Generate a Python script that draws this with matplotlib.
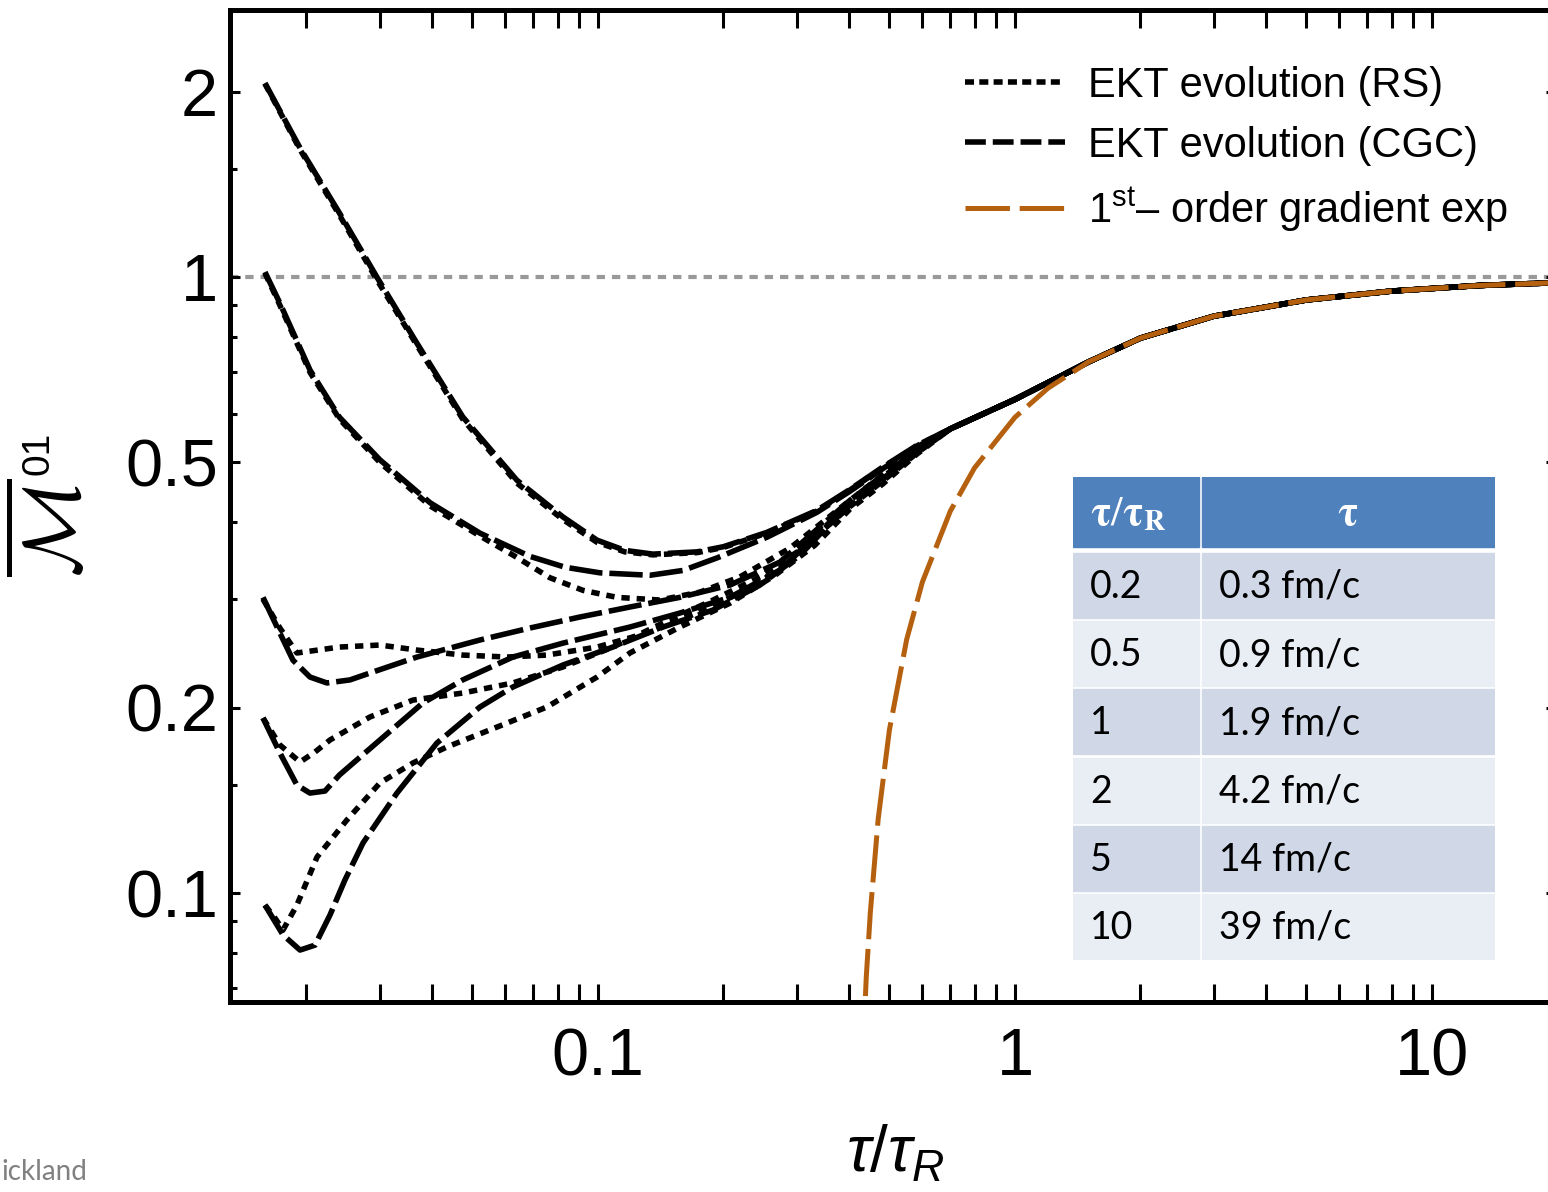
import matplotlib
matplotlib.use('Agg')
import matplotlib.pyplot as plt
from matplotlib.lines import Line2D
from matplotlib.patches import Rectangle
from matplotlib.ticker import NullFormatter

plt.rcParams['font.family'] = ['Liberation Sans', 'DejaVu Sans']
plt.rcParams['mathtext.fontset'] = 'custom'
plt.rcParams['mathtext.rm'] = 'Liberation Sans'
plt.rcParams['mathtext.it'] = 'Liberation Sans:italic'
plt.rcParams['lines.scale_dashes'] = False

# early-time part of each curve, tau/tau_R vs M^01
TAU_A = [0.0159, 0.0193, 0.0240, 0.0295, 0.0368, 0.0474, 0.0639, 0.0824, 0.0995,
         0.116, 0.1355, 0.173, 0.200, 0.254, 0.335, 0.402, 0.483, 0.582]
M_A_CGC = [2.065, 1.62, 1.27, 1.00, 0.781, 0.593, 0.468, 0.408, 0.374,
           0.360, 0.355, 0.358, 0.365, 0.385, 0.418, 0.452, 0.492, 0.533]
M_A_RS = [2.06, 1.61, 1.26, 0.99, 0.775, 0.588, 0.463, 0.404, 0.371,
          0.358, 0.354, 0.357, 0.364, 0.384, 0.417, 0.451, 0.491, 0.532]

TAU_B_CGC = [0.0159, 0.01727, 0.0204, 0.0240, 0.0300, 0.0396, 0.0521, 0.0687, 0.0834,
             0.1011, 0.1333, 0.160, 0.193, 0.254, 0.335, 0.402, 0.483, 0.582]
M_B_CGC = [1.019, 0.907, 0.706, 0.592, 0.505, 0.430, 0.384, 0.352, 0.338,
           0.331, 0.328, 0.334, 0.350, 0.378, 0.415, 0.449, 0.489, 0.530]
TAU_B_RS = [0.0159, 0.01727, 0.0204, 0.0240, 0.0300, 0.0396, 0.0521, 0.0633, 0.0767,
            0.0921, 0.1111, 0.1408, 0.1757, 0.219, 0.2887, 0.402, 0.483, 0.582]
M_B_RS = [1.015, 0.900, 0.700, 0.588, 0.500, 0.425, 0.380, 0.352, 0.325,
          0.310, 0.302, 0.299, 0.308, 0.326, 0.363, 0.434, 0.478, 0.523]

TAU_C_CGC = [0.01573, 0.01727, 0.01856, 0.02039, 0.02239, 0.02542, 0.02839, 0.0368, 0.0521,
             0.0687, 0.0905, 0.1193, 0.1572, 0.2073, 0.2732, 0.402, 0.483, 0.582]
M_C_CGC = [0.302, 0.2643, 0.2388, 0.2242, 0.2193, 0.2218, 0.2276, 0.2416, 0.2575,
           0.2693, 0.2806, 0.2913, 0.302, 0.3162, 0.3446, 0.434, 0.477, 0.523]
TAU_C_RS = [0.01573, 0.01727, 0.01897, 0.0213, 0.0240, 0.0300, 0.0368, 0.0474, 0.0605,
            0.0754, 0.0995, 0.1311, 0.1727, 0.219, 0.2808, 0.402, 0.483, 0.582]
M_C_RS = [0.300, 0.2693, 0.2453, 0.2480, 0.2508, 0.2527, 0.2480, 0.2434, 0.2416,
          0.2434, 0.2508, 0.2643, 0.2848, 0.3069, 0.3407, 0.427, 0.471, 0.520]

TAU_D_CGC = [0.01573, 0.01727, 0.01897, 0.02039, 0.02215, 0.0240, 0.0300, 0.0380, 0.0474,
             0.0625, 0.0824, 0.1193, 0.1572, 0.2073, 0.2732, 0.402, 0.483, 0.582]
M_D_CGC = [0.1924, 0.1688, 0.1497, 0.1453, 0.1464, 0.1555, 0.1772, 0.2034, 0.2218,
           0.2416, 0.2545, 0.2703, 0.2848, 0.302, 0.3345, 0.430, 0.474, 0.522]
TAU_D_RS = [0.01573, 0.01727, 0.0193, 0.02096, 0.02277, 0.02839, 0.0360, 0.0474, 0.0625,
            0.0824, 0.1086, 0.1432, 0.1887, 0.2446, 0.3051, 0.402, 0.483, 0.582]
M_D_RS = [0.1924, 0.1739, 0.1632, 0.1694, 0.1772, 0.1931, 0.2057, 0.2112, 0.2193,
          0.2328, 0.2508, 0.2744, 0.2989, 0.326, 0.3604, 0.424, 0.467, 0.518]

TAU_E_CGC = [0.0159, 0.01757, 0.0193, 0.02096, 0.02277, 0.02473, 0.02733, 0.03296, 0.0411,
             0.0521, 0.0625, 0.0824, 0.1086, 0.1432, 0.1887, 0.2446, 0.3051, 0.402, 0.483, 0.582]
M_E_CGC = [0.0956, 0.0855, 0.0808, 0.0823, 0.0921, 0.1050, 0.1206, 0.1453, 0.1752,
           0.2004, 0.2160, 0.2345, 0.2508, 0.2703, 0.288, 0.3162, 0.3537, 0.430, 0.474, 0.522]
TAU_E_RS = [0.0159, 0.0168, 0.01757, 0.01897, 0.0212, 0.0250, 0.0300, 0.0360, 0.0434,
            0.0573, 0.0754, 0.0995, 0.1193, 0.1572, 0.2073, 0.2658, 0.3315, 0.402, 0.483, 0.582]
M_E_RS = [0.0956, 0.0911, 0.0871, 0.0956, 0.1144, 0.1314, 0.1509, 0.1626, 0.1726,
          0.1860, 0.2004, 0.2242, 0.2453, 0.2703, 0.2955, 0.328, 0.3671, 0.420, 0.462, 0.516]

# late-time part shared by all EKT curves (attractor)
TAU_LATE = [0.70, 1.0, 1.2, 1.5, 2.0, 3.0, 5.0, 8.0, 13.0, 20.5]
M_LATE = [0.567, 0.633, 0.674, 0.728, 0.796, 0.864, 0.918, 0.949, 0.969, 0.980]

# first order gradient expansion
TAU_GRAD = [0.432, 0.44, 0.45, 0.47, 0.50, 0.55, 0.60, 0.70, 0.80, 1.0, 1.2,
            1.5, 2.0, 3.0, 5.0, 8.0, 13.0, 20.5]
M_GRAD = [0.055, 0.073, 0.093, 0.132, 0.184, 0.258, 0.320, 0.417, 0.490, 0.592, 0.660,
          0.728, 0.796, 0.864, 0.918, 0.949, 0.969, 0.980]

TABLE_RATIO = ['0.2', '0.5', '1', '2', '5', '10']
TABLE_TAU = ['0.3 fm/c', '0.9 fm/c', '1.9 fm/c', '4.2 fm/c', '14 fm/c', '39 fm/c']

ORANGE = '#b5600e'
W, H = 1548, 1192

fig = plt.figure(figsize=(W / 100, H / 100), dpi=100)
ax = fig.add_axes([230 / W, 1 - 1002 / H, (1556 - 230) / W, (1002 - 10) / H])
ax.set_xscale('log')
ax.set_yscale('log')
ax.set_xlim(0.01311, 19.84)
ax.set_ylim(0.06654, 2.7138)

ax.axhline(1, color='#999999', lw=3, dashes=(6, 5), zorder=1)

cgc = [(TAU_A, M_A_CGC), (TAU_B_CGC, M_B_CGC), (TAU_C_CGC, M_C_CGC),
       (TAU_D_CGC, M_D_CGC), (TAU_E_CGC, M_E_CGC)]
rs = [(TAU_A, M_A_RS), (TAU_B_RS, M_B_RS), (TAU_C_RS, M_C_RS),
      (TAU_D_RS, M_D_RS), (TAU_E_RS, M_E_RS)]
for t, m in rs:
    ax.plot(t + TAU_LATE, m + M_LATE, color='black', lw=4, dashes=(6, 5), zorder=2)
for t, m in cgc:
    ax.plot(t + TAU_LATE, m + M_LATE, color='black', lw=4, dashes=(24, 5), zorder=3)
ax.plot(TAU_GRAD, M_GRAD, color=ORANGE, lw=3.6, dashes=(34, 7), zorder=4)

# ticks
for s in ax.spines.values():
    s.set_linewidth(3.6)
ax.set_xticks([0.1, 1, 10], labels=['0.1', '1', '10'])
ax.set_xticks([k * 10.0 ** e for e in (-2, -1, 0, 1) for k in range(2, 10)
               if 0.0131 < k * 10.0 ** e < 19.8], minor=True)
ax.set_yticks([0.1, 0.2, 0.5, 1, 2], labels=['0.1', '0.2', '0.5', '1', '2'])
ax.set_yticks([0.07, 0.08, 0.09, 0.15, 0.3, 0.4, 0.6, 0.7, 0.8, 0.9, 1.5], minor=True)
ax.xaxis.set_minor_formatter(NullFormatter())
ax.yaxis.set_minor_formatter(NullFormatter())
ax.tick_params(which='both', direction='in', top=True, right=True, width=2.2,
               labelsize=48)
ax.tick_params(axis='x', which='both', length=13, pad=18)
ax.tick_params(axis='y', which='major', length=7.5, pad=8.5)
ax.tick_params(axis='y', which='minor', length=5)

# legend
handles = [Line2D([], [], color='black', lw=4, dashes=(6.5, 3.8)),
           Line2D([], [], color='black', lw=4, dashes=(15, 5)),
           Line2D([], [], color=ORANGE, lw=3.6, dashes=(32, 7))]
labels = ['EKT evolution (RS)', 'EKT evolution (CGC)', r'1$^{\mathrm{st}}$– order gradient exp']
ax.legend(handles, labels, loc='upper left', bbox_to_anchor=(965 / W, 1 - 66 / H),
          bbox_transform=fig.transFigure, frameon=False, fontsize=30,
          handlelength=2.4, handletextpad=0.55, labelspacing=0.47,
          borderpad=0, borderaxespad=0)

# table inset
tab = fig.add_axes([1073 / W, 1 - 960 / H, 422 / W, 483 / H])
tab.set_xlim(0, 422)
tab.set_ylim(483, 0)
tab.axis('off')
tab.add_patch(Rectangle((0, 0), 126, 70, color='#4f81bd'))
tab.add_patch(Rectangle((129, 0), 293, 70, color='#4f81bd'))
tab.text(17, 37, r'$\mathbf{\tau}/\mathbf{\tau}_{\mathbf{R}}$', color='white', size=30,
         math_fontfamily='stix', va='center', ha='left')
tab.text(275, 37, r'$\mathbf{\tau}$', color='white', size=30, math_fontfamily='stix',
         va='center', ha='center')
for i, (r, t) in enumerate(zip(TABLE_RATIO, TABLE_TAU)):
    top = 76 + i * 68.2
    c = '#d0d8e8' if i % 2 == 0 else '#e9edf4'
    tab.add_patch(Rectangle((0, top), 126, 65, color=c))
    tab.add_patch(Rectangle((129, top), 293, 65, color=c))
    tab.text(17, top + 34, r, family='Lato', size=27, va='center', ha='left')
    tab.text(146, top + 34, t, family='Lato', size=27, va='center', ha='left')

# axis labels
fig.text(895 / W, 1 - 1172 / H, r'$\tau/\tau_R$', size=46, ha='center', va='baseline')
fig.text(55 / W, 1 - 528 / H, r'$\overline{\mathcal{M}}$', size=58, rotation=90,
         math_fontfamily='cm', ha='center', va='center')
fig.text(38 / W, 1 - 453 / H, '01', size=28, rotation=90, ha='center', va='center')

fig.text(1 / W, 1 - 1180 / H, 'ickland', family='Lato', size=20, color='#808080',
         ha='left', va='baseline')

fig.savefig('out.png', dpi=100)
